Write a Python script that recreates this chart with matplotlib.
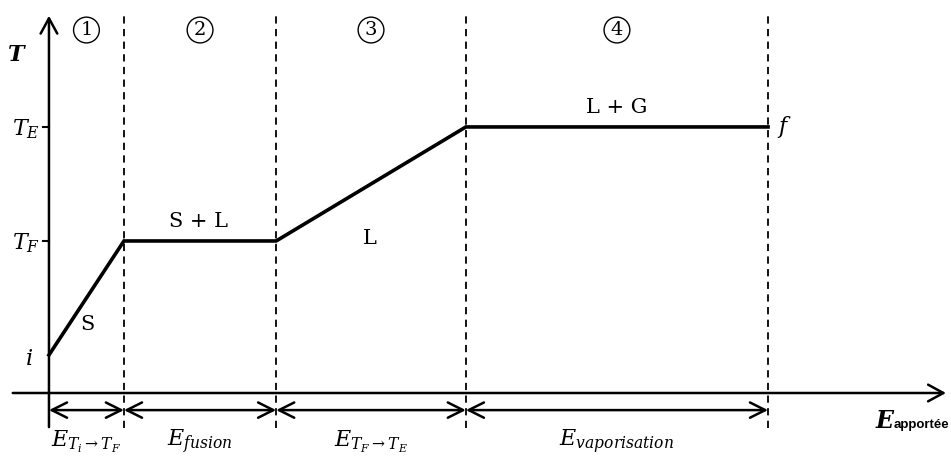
import matplotlib.pyplot as plt

plt.rcParams['mathtext.fontset'] = 'dejavuserif'
plt.rcParams['font.family'] = 'DejaVu Serif'

# energy boundaries of the four stages (arbitrary units)
energy = [0.0, 1.0, 3.03, 5.56, 9.59]
# temperature at each boundary (arbitrary units): i, T_F, T_F, T_E, T_E
temp = [1.0, 4.0, 4.0, 7.0, 7.0]
T_F, T_E = 4.0, 7.0

phase_labels = ['S', 'S + L', 'L', 'L + G']
stage_numbers = ['1', '2', '3', '4']
energy_labels = [r'$E_{T_i\rightarrow T_F}$', r'$E_{fusion}$',
                 r'$E_{T_F\rightarrow T_E}$', r'$E_{vaporisation}$']

fig = plt.figure(figsize=(9.51, 4.67), dpi=100)
ax = fig.add_axes([0, 0, 1, 1])
ax.set_xlim(-0.653, 12.03)
ax.set_ylim(-1.947, 10.34)
ax.axis('off')

# axes with arrows
ax.annotate('', xy=(0, 10.0), xytext=(0, -0.97),
            arrowprops=dict(arrowstyle='->,head_length=1.1,head_width=0.6', lw=1.8, color='black'))
ax.annotate('', xy=(12.0, 0), xytext=(-0.52, 0),
            arrowprops=dict(arrowstyle='->,head_length=1.1,head_width=0.6', lw=1.8, color='black'))

# dashed separators
for e in energy[1:]:
    ax.plot([e, e], [-0.92, 9.97], ls=(0, (4, 3)), color='black', lw=1.3)

# heating curve
ax.plot(energy, temp, color='black', lw=2.6, solid_joinstyle='miter')

# ticks on T axis
for t in (T_F, T_E):
    ax.plot([-0.08, 0], [t, t], color='black', lw=1.5)

ax.text(-0.43, 8.9, r'$\boldsymbol{T}$', fontsize=16, ha='center', va='center')
ax.text(-0.12, T_E - 0.05, r'$T_E$', fontsize=16, ha='right', va='center')
ax.text(-0.12, T_F - 0.05, r'$T_F$', fontsize=16, ha='right', va='center')
ax.text(-0.27, temp[0] - 0.1, r'$i$', fontsize=16, ha='center', va='center')
ax.text(energy[-1] + 0.22, temp[-1], r'$f$', fontsize=16, ha='center', va='center')

# phase labels
ax.text(0.51, 1.8, phase_labels[0], fontsize=15, ha='center', va='center')
ax.text(2.0, 4.5, phase_labels[1], fontsize=15, ha='center', va='center')
ax.text(4.28, 4.07, phase_labels[2], fontsize=15, ha='center', va='center')
ax.text(7.57, 7.5, phase_labels[3], fontsize=15, ha='center', va='center')

# circled stage numbers
for i in range(4):
    xc = (energy[i] + energy[i + 1]) / 2
    ax.text(xc, 9.55, stage_numbers[i], fontsize=14, ha='center', va='center',
            bbox=dict(boxstyle='circle,pad=0.2', fc='white', ec='black', lw=1.0))

# double arrows and energy labels
for i in range(4):
    a, b = energy[i], energy[i + 1]
    ax.annotate('', xy=(b, -0.45), xytext=(a, -0.45),
                arrowprops=dict(arrowstyle='<->,head_length=1.1,head_width=0.55',
                                lw=1.8, color='black', shrinkA=0, shrinkB=0))
    ax.text((a + b) / 2, -1.28, energy_labels[i], fontsize=16, ha='center', va='center')

ax.text(11.16, -0.76, r'$\boldsymbol{E}$', fontsize=17, ha='center', va='center')
ax.text(11.27, -0.84, 'apportée', fontsize=9.5, fontweight='bold', family='Liberation Sans',
        ha='left', va='center')

fig.savefig('out.png', dpi=100)
